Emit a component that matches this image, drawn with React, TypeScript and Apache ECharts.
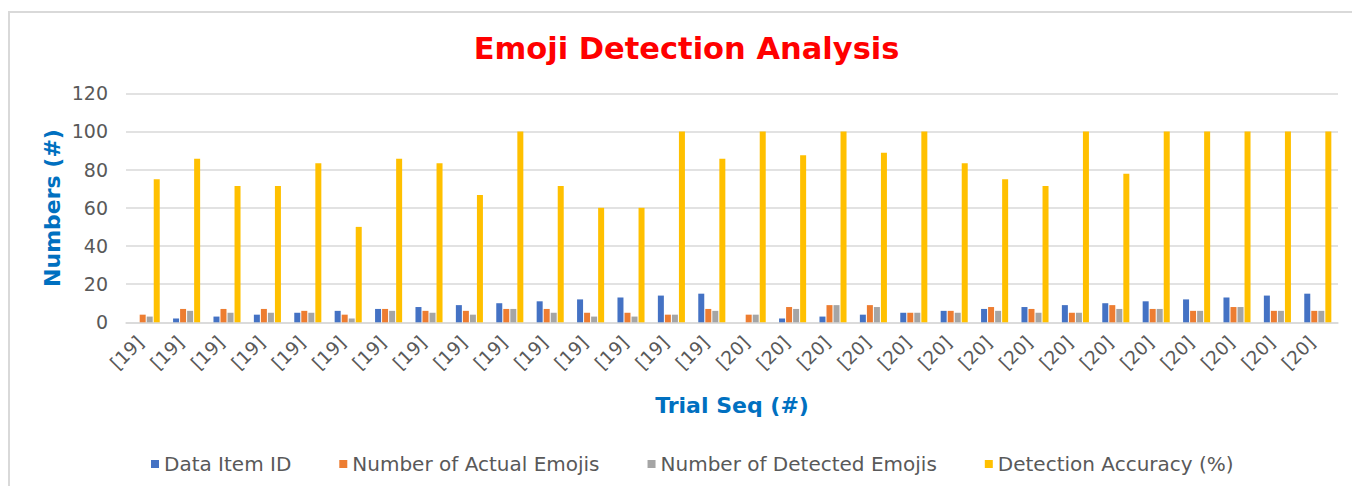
import React, { useEffect, useRef } from "react";
import * as echarts from "echarts";

const categories = [
  "[19]", "[19]", "[19]", "[19]", "[19]", "[19]", "[19]", "[19]", "[19]", "[19]",
  "[19]", "[19]", "[19]", "[19]", "[19]",
  "[20]", "[20]", "[20]", "[20]", "[20]", "[20]", "[20]", "[20]", "[20]", "[20]",
  "[20]", "[20]", "[20]", "[20]", "[20]",
];
const dataItemId = [0, 2, 3, 4, 5, 6, 7, 8, 9, 10, 11, 12, 13, 14, 15, 0, 2, 3, 4, 5, 6, 7, 8, 9, 10, 11, 12, 13, 14, 15];
const actualEmojis = [4, 7, 7, 7, 6, 4, 7, 6, 6, 7, 7, 5, 5, 4, 7, 4, 8, 9, 9, 5, 6, 8, 7, 5, 9, 7, 6, 8, 6, 6];
const detectedEmojis = [3, 6, 5, 5, 5, 2, 6, 5, 4, 7, 5, 3, 3, 4, 6, 4, 7, 9, 8, 5, 5, 6, 5, 5, 7, 7, 6, 8, 6, 6];
const accuracy = [75, 85.7, 71.4, 71.4, 83.3, 50, 85.7, 83.3, 66.7, 100, 71.4, 60, 60, 100, 85.7, 100, 87.5, 100, 88.9, 100, 83.3, 75, 71.4, 100, 77.8, 100, 100, 100, 100, 100];
const yTicks = { min: 0, max: 120, interval: 20 };

const seriesNames = ["Data Item ID", "Number of Actual Emojis", "Number of Detected Emojis", "Detection Accuracy (%)"];
const seriesColors = ["#4472C4", "#ED7D31", "#A5A5A5", "#FFC000"];
const seriesData = [dataItemId, actualEmojis, detectedEmojis, accuracy];

const FONT = "'DejaVu Sans', Verdana, sans-serif";

export default function App() {
  const ref = useRef<HTMLDivElement>(null);
  useEffect(() => {
    if (!ref.current) return;
    const chart = echarts.init(ref.current, undefined, { renderer: "svg" });
    chart.setOption({
      animation: false,
      backgroundColor: "#ffffff",
      textStyle: { fontFamily: FONT },
      grid: { left: 126, right: 14, top: 93.3, bottom: 163.7, containLabel: false },
      legend: {
        left: 146,
        top: 449,
        itemWidth: 8,
        itemHeight: 8,
        itemGap: 48,
        icon: "rect",
        data: seriesNames,
        textStyle: { fontFamily: FONT, fontSize: 20, color: "#595959" },
      },
      xAxis: {
        type: "category",
        data: categories,
        axisLine: { show: true, lineStyle: { color: "#D9D9D9", width: 1.5 } },
        axisTick: { show: false },
        axisLabel: {
          rotate: 45,
          interval: 0,
          margin: 11,
          padding: [0, 8.5, 0, 0],
          fontFamily: FONT,
          fontSize: 18.5,
          color: "#595959",
        },
      },
      yAxis: {
        type: "value",
        min: yTicks.min,
        max: yTicks.max,
        interval: yTicks.interval,
        axisLine: { show: false },
        axisTick: { show: false },
        splitLine: { lineStyle: { color: "#D9D9D9", width: 1.5 } },
        axisLabel: { margin: 18, fontFamily: FONT, fontSize: 19, color: "#595959" },
      },
      series: seriesNames.map((name, i) => ({
        name,
        type: "bar",
        data: seriesData[i],
        itemStyle: { color: seriesColors[i] },
        barCategoryGap: "33%",
        barGap: "17%",
      })),
      graphic: [
        {
          type: "rect",
          shape: { x: 9, y: 12, width: 1400, height: 600 },
          style: { fill: "none", stroke: "#D9D9D9", lineWidth: 2 },
          silent: true,
          z: -10,
        },
        {
          type: "text",
          x: 686.5,
          y: 48.5,
          style: {
            text: "Emoji Detection Analysis",
            fill: "#FF0000",
            fontFamily: FONT,
            fontWeight: "bold",
            fontSize: 30.5,
            textAlign: "center",
            textVerticalAlign: "middle",
          },
        },
        {
          type: "text",
          x: 52.5,
          y: 208,
          rotation: Math.PI / 2,
          style: {
            text: "Numbers (#)",
            fill: "#0070C0",
            fontFamily: FONT,
            fontWeight: "bold",
            fontSize: 22,
            textAlign: "center",
            textVerticalAlign: "middle",
          },
        },
        {
          type: "text",
          x: 732,
          y: 405,
          style: {
            text: "Trial Seq (#)",
            fill: "#0070C0",
            fontFamily: FONT,
            fontWeight: "bold",
            fontSize: 22,
            textAlign: "center",
            textVerticalAlign: "middle",
          },
        },
      ],
    });
    return () => chart.dispose();
  }, []);
  return <div ref={ref} style={{ position: "fixed", left: 0, top: 0, width: 1352, height: 486 }} />;
}
